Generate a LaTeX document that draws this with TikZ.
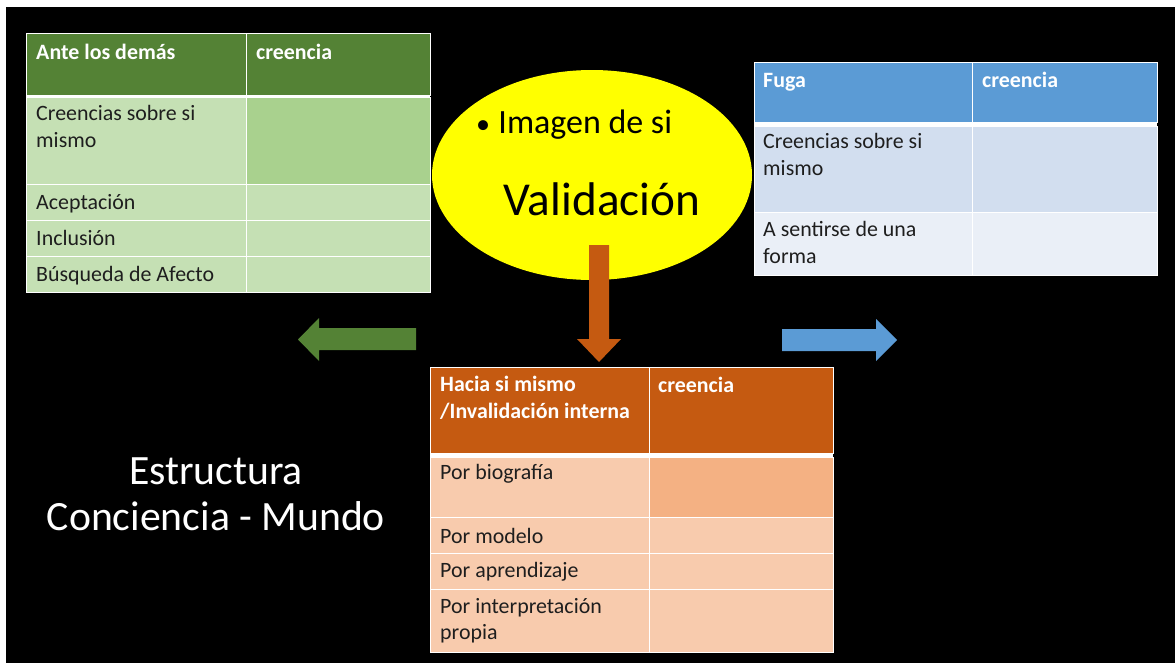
\documentclass[tikz,border=0pt]{standalone}
\usepackage{fontspec}
\setmainfont{Carlito}
\definecolor{hdgreen}{HTML}{548235}
\definecolor{ltgreen}{HTML}{C5E0B4}
\definecolor{mdgreen}{HTML}{A9D18E}
\definecolor{hdblue}{HTML}{5B9BD5}
\definecolor{mdblue}{HTML}{D2DEEF}
\definecolor{ltblue}{HTML}{EAEFF7}
\definecolor{hdorange}{HTML}{C55A11}
\definecolor{ltorange}{HTML}{F8CBAD}
\definecolor{mdorange}{HTML}{F4B183}
\definecolor{ovalyellow}{HTML}{FFFF00}
\definecolor{celltext}{HTML}{1E1E1E}
\tikzset{
  cell/.style={draw=white, line width=0.5pt},
  headtxt/.style={anchor=base west, inner sep=0pt, align=left, text=white,
    font=\fontsize{18.7}{22.2}\selectfont\bfseries},
  celltxt/.style={anchor=base west, inner sep=0pt, align=left, text=celltext,
    font=\fontsize{18.7}{22.2}\selectfont},
}
\begin{document}
\begin{tikzpicture}[x=0.03cm, y=-0.03cm]
\useasboundingbox (0,0) rectangle (1175,666);
\fill[white] (0,0) rectangle (1175,666);
\fill[black] (6,7) rectangle (1175,663);

% tabla verde: ante los demas
\fill[hdgreen, cell] (26,33) rectangle (246,95);
\fill[hdgreen, cell] (246,33) rectangle (430,95);
\fill[white] (26,95) rectangle (430,97.5);
\fill[ltgreen, cell] (26,97.5) rectangle (246,184);
\fill[mdgreen, cell] (246,97.5) rectangle (430,184);
\foreach \ya/\yb in {184/220, 220/256, 256/292} {
  \fill[ltgreen, cell] (26,\ya) rectangle (246,\yb);
  \fill[ltgreen, cell] (246,\ya) rectangle (430,\yb);
}
% (multi-line texts sit on the base of their last line)
\node[headtxt] (demas) at (36,59) {Ante los demás};
\node[headtxt] (demascr) at (256,59) {creencia};
\node[celltxt] (demas1) at (36,147) {Creencias sobre si\\mismo};
\node[celltxt] (demas2) at (36,209) {Aceptación};
\node[celltxt] (demas3) at (36,245) {Inclusión};
\node[celltxt] (demas4) at (36,281) {Búsqueda de Afecto};

% tabla azul: fuga
\fill[hdblue, cell] (754,62) rectangle (972,122);
\fill[hdblue, cell] (972,62) rectangle (1157,122);
\fill[white] (754,122) rectangle (1157,126);
\fill[mdblue, cell] (754,126) rectangle (972,212);
\fill[mdblue, cell] (972,126) rectangle (1157,212);
\fill[ltblue, cell] (754,212) rectangle (972,275);
\fill[ltblue, cell] (972,212) rectangle (1157,275);
\node[headtxt] (fuga) at (763,87) {Fuga};
\node[headtxt] (fugacr) at (982,87) {creencia};
\node[celltxt] (fuga1) at (763,175) {Creencias sobre si\\mismo};
\node[celltxt] (fuga2) at (763,263) {A sentirse de una\\forma};

% ovalo
\fill[ovalyellow] (592,175) ellipse (160 and 105);
\node[anchor=base west, inner sep=0pt, font=\fontsize{29}{35}\selectfont]
  (imagen) at (476,133) {{\fontsize{24}{28}\selectfont•}\hspace{7pt}Imagen de si};
\node[anchor=base, inner sep=0pt, font=\fontsize{40.3}{48}\selectfont]
  (valid) at (602,215) {Validación};

% flechas
\fill[hdorange] (589,245) -- (609,245) -- (609,339) -- (621,339) -- (599,362)
  -- (577,339) -- (589,339) -- cycle;
\fill[hdgreen] (416,328) -- (319,328) -- (319,318) -- (298,339.5) -- (319,361)
  -- (319,350) -- (416,350) -- cycle;
\fill[hdblue] (782,329) -- (876,329) -- (876,319) -- (897,340) -- (876,361)
  -- (876,351) -- (782,351) -- cycle;

% tabla naranja: hacia si mismo
\fill[hdorange, cell] (430,367) rectangle (649,453);
\fill[hdorange, cell] (649,367) rectangle (833,453);
\fill[white] (430,453) rectangle (833,457);
\fill[ltorange, cell] (430,457) rectangle (649,517);
\fill[mdorange, cell] (649,457) rectangle (833,517);
\foreach \ya/\yb in {517/553, 553/589, 589/652} {
  \fill[ltorange, cell] (430,\ya) rectangle (649,\yb);
  \fill[ltorange, cell] (649,\ya) rectangle (833,\yb);
}
\node[headtxt] (hacia) at (440,418) {Hacia si mismo\\/Invalidación interna};
\node[headtxt] (haciacr) at (658,392) {creencia};
\node[celltxt] (hacia1) at (440,479) {Por biografía};
\node[celltxt] (hacia2) at (440,543) {Por modelo};
\node[celltxt] (hacia3) at (440,577) {Por aprendizaje};
\node[celltxt] (hacia4) at (440,639) {Por interpretación\\propia};

% titulo
\node[anchor=base, inner sep=0pt, align=center, text=white,
  font=\fontsize{35.6}{39}\selectfont] (titulo) at (216,530)
  {Estructura\\Conciencia - Mundo};
\end{tikzpicture}
\end{document}
